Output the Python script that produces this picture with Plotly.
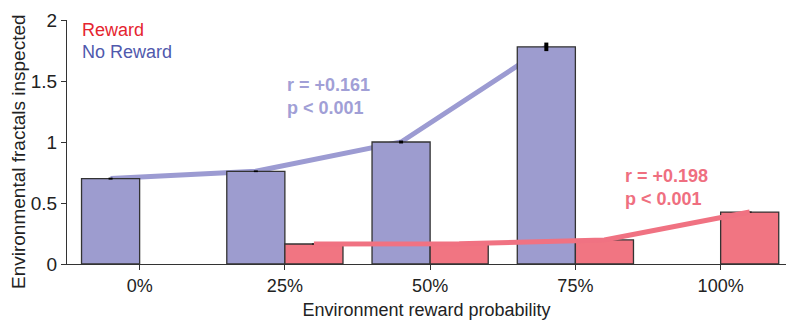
import plotly.graph_objects as go

categories = ["0%", "25%", "50%", "75%", "100%"]
positions = [0, 1, 2, 3, 4]
no_reward = [0.70, 0.76, 1.00, 1.78, None]
no_reward_err = [0.008, 0.007, 0.012, 0.035, None]
reward = [None, 0.164, 0.165, 0.197, 0.426]
reward_err = [None, 0.004, 0.003, 0.003, 0.004]
y_ticks = [0, 0.5, 1, 1.5, 2]
y_tick_text = ["0", "0.5", "1", "1.5", "2"]

NR_FILL = "#9d9ccf"
R_FILL = "#f17582"
NR_LINE = "#9c9bd2"
R_LINE = "#f07282"
FONT = "Liberation Sans, Arial, sans-serif"
BAR_W = 0.4

nr_x = [p - BAR_W / 2 for p, v in zip(positions, no_reward) if v is not None]
nr_y = [v for v in no_reward if v is not None]
r_x = [p + BAR_W / 2 for p, v in zip(positions, reward) if v is not None]
r_y = [v for v in reward if v is not None]

fig = go.Figure()

# purple trend line drawn beneath the bars (base subplot)
fig.add_trace(go.Scatter(x=nr_x, y=nr_y, mode="lines",
                         line=dict(color=NR_LINE, width=5),
                         xaxis="x", yaxis="y", showlegend=False, hoverinfo="skip"))

# bars in overlaying subplot
fig.add_trace(go.Bar(x=positions, y=no_reward, width=BAR_W, offset=-BAR_W,
                     marker=dict(color=NR_FILL, line=dict(color="#333333", width=1.3)),
                     error_y=dict(type="data", array=no_reward_err, color="black",
                                  thickness=4, width=0),
                     xaxis="x2", yaxis="y2", showlegend=False))
fig.add_trace(go.Bar(x=positions, y=reward, width=BAR_W, offset=0,
                     marker=dict(color=R_FILL, line=dict(color="#333333", width=1.3)),
                     error_y=dict(type="data", array=reward_err, color="black",
                                  thickness=4, width=0),
                     xaxis="x2", yaxis="y2", showlegend=False))
# red trend line above purple bars
fig.add_trace(go.Scatter(x=r_x, y=r_y, mode="lines",
                         line=dict(color=R_LINE, width=5),
                         xaxis="x2", yaxis="y2", showlegend=False, hoverinfo="skip"))

xr = [-0.5, 4.45]
yr = [0, 2]

fig.update_layout(
    width=786, height=324,
    margin=dict(l=67, r=0, t=20, b=60),
    paper_bgcolor="white", plot_bgcolor="white",
    barmode="overlay",
    font=dict(family=FONT, size=18, color="#222222"),
    xaxis=dict(range=xr, tickmode="array", tickvals=positions, ticktext=categories,
               showline=True, linecolor="#333333", linewidth=1.3,
               ticks="outside", ticklen=5, tickcolor="#333333",
               showgrid=False, zeroline=False, tickfont=dict(size=18),
               title=dict(text="Environment reward probability", font=dict(size=18),
                          standoff=8)),
    yaxis=dict(range=yr, tickmode="array", tickvals=y_ticks, ticktext=y_tick_text,
               showline=True, linecolor="#333333", linewidth=1.3,
               ticks="outside", ticklen=5, tickcolor="#333333",
               showgrid=False, zeroline=False, tickfont=dict(size=19)),
    xaxis2=dict(range=xr, overlaying="x", visible=False),
    yaxis2=dict(range=yr, overlaying="y", visible=False),
    annotations=[
        dict(text="Reward", x=-0.41, y=1.918, xref="x", yref="y", xanchor="left",
             yanchor="middle", showarrow=False, font=dict(size=18, color="#e5242f")),
        dict(text="No Reward", x=-0.41, y=1.738, xref="x", yref="y", xanchor="left",
             yanchor="middle", showarrow=False, font=dict(size=18, color="#5059ad")),
        dict(text="<b>r = +0.161<br>p < 0.001</b>", x=1.0, y=1.37, xref="x", yref="y",
             xanchor="left", yanchor="middle", align="left", showarrow=False,
             font=dict(size=18, color="#a19fd6")),
        dict(text="<b>r = +0.198<br>p < 0.001</b>", x=3.33, y=0.627, xref="x", yref="y",
             xanchor="left", yanchor="middle", align="left", showarrow=False,
             font=dict(size=18, color="#ef6f80")),
        dict(text="Environmental fractals inspected", x=-0.0675, y=0.461,
             xref="paper", yref="paper", xanchor="center", yanchor="middle",
             textangle=-90, showarrow=False, font=dict(size=19, color="#222222")),
    ],
)

fig.write_html("out.html", config={"displayModeBar": False},
               post_script="document.body.style.margin='0px';document.body.style.padding='0px';")
